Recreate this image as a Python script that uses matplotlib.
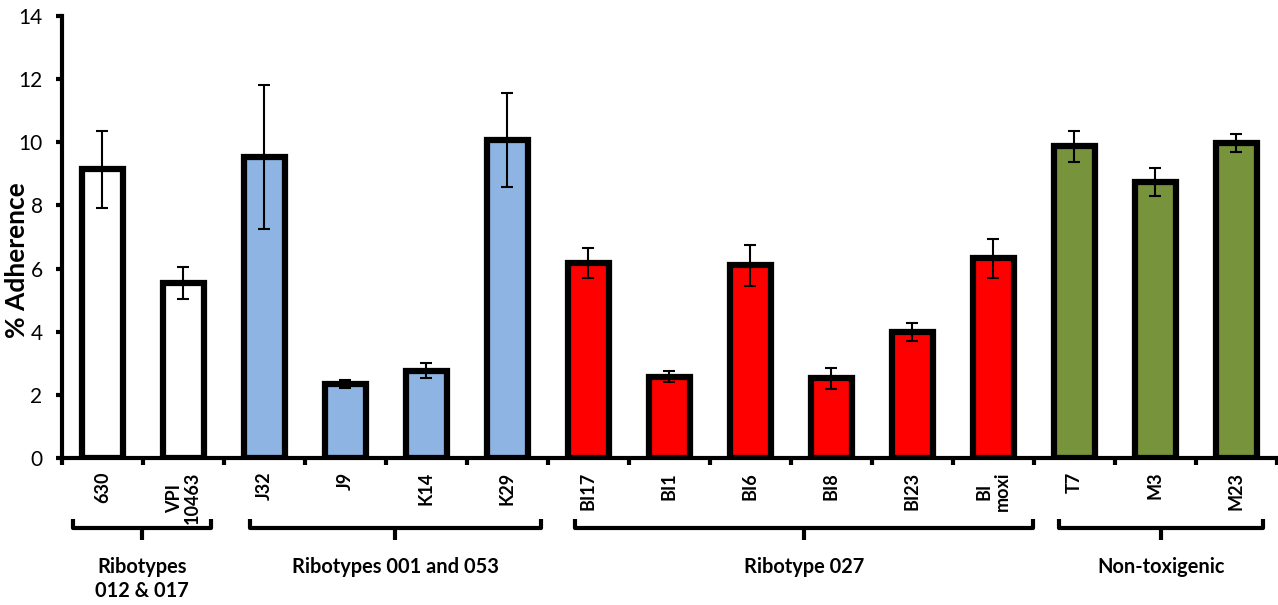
import matplotlib
matplotlib.use('Agg')
import matplotlib.pyplot as plt
import numpy as np
from matplotlib.transforms import blended_transform_factory

plt.rcParams['font.family'] = ['Lato', 'DejaVu Sans']

# ---- data ----
strains = ['630', 'VPI\n10463', 'J32', 'J9', 'K14', 'K29', 'BI17', 'BI1', 'BI6',
           'BI8', 'BI23', 'BI\nmoxi', 'T7', 'M3', 'M23']
adherence = [9.14, 5.54, 9.52, 2.35, 2.76, 10.07, 6.17, 2.58, 6.10, 2.53, 3.99,
             6.32, 9.87, 8.75, 9.98]
errors = [1.23, 0.50, 2.28, 0.13, 0.24, 1.50, 0.48, 0.18, 0.65, 0.33, 0.28,
          0.61, 0.49, 0.45, 0.29]
group_names = ['Ribotypes\n012 & 017', 'Ribotypes 001 and 053', 'Ribotype 027',
               'Non-toxigenic']
group_sizes = [2, 4, 6, 3]
group_colors = ['#FFFFFF', '#8DB4E2', '#FF0000', '#77933C']
yticks = [0, 2, 4, 6, 8, 10, 12, 14]

# ---- layout constants ----
bracket_pads = [(0.37, 0.34), (0.18, 0.41), (0.17, 0.49), (0.19, 0.33)]
FIG_H_PX = 605

colors = []
for c, n in zip(group_colors, group_sizes):
    colors += [c] * n

x = np.arange(len(strains))

fig = plt.figure(figsize=(12.78, 6.05), dpi=100)
ax = fig.add_axes([0.0485, 0.2430, 0.9507, 0.7306])

ax.bar(x, adherence, width=0.51, color=colors, edgecolor='black',
       linewidth=4.5, zorder=2)
ax.errorbar(x, adherence, yerr=errors, fmt='none', ecolor='black',
            elinewidth=1.5, capsize=4.3, capthick=1.5, zorder=3)

ax.set_xlim(-0.5, len(strains) - 0.5)
ax.set_ylim(0, 14)

for s in ['top', 'right']:
    ax.spines[s].set_visible(False)
for s in ['left', 'bottom']:
    ax.spines[s].set_linewidth(3)
    ax.spines[s].set_zorder(4)

ax.set_yticks(yticks)
ax.set_yticklabels([str(v) for v in yticks])
ax.tick_params(axis='y', direction='out', length=4, width=3, labelsize=15, pad=10)

ax.set_xticks(x)
ax.set_xticklabels(strains, rotation=90, fontweight='bold', fontsize=13,
                   va='top', ha='center', multialignment='center',
                   linespacing=1.1)
ax.set_xticks(np.arange(-0.5, len(strains), 1), minor=True)
ax.tick_params(axis='x', which='major', length=0, pad=10)
ax.tick_params(axis='x', which='minor', length=5, width=3, direction='out')

ax.set_ylabel('% Adherence', fontsize=19, fontweight='bold')
ax.yaxis.set_label_coords(-0.0275, 0.448)

trans = blended_transform_factory(ax.transData, fig.transFigure)


def fy(py):
    return 1 - py / FIG_H_PX


start = 0
for name, n, (pl, pr) in zip(group_names, group_sizes, bracket_pads):
    end = start + n - 1
    xl, xr = start - pl, end + pr
    xm = (xl + xr) / 2
    ax.plot([xl, xl, xr, xr], [fy(519), fy(528), fy(528), fy(519)],
            transform=trans, clip_on=False, color='black', lw=3,
            solid_joinstyle='round', solid_capstyle='butt')
    ax.plot([xm, xm], [fy(528), fy(540)], transform=trans, clip_on=False,
            color='black', lw=3, solid_capstyle='butt')
    ax.text(xm, fy(557), name, transform=trans, ha='center', va='top',
            fontsize=14.4, fontweight='bold', linespacing=1.25)
    start += n

fig.savefig('out.png', dpi=100)
